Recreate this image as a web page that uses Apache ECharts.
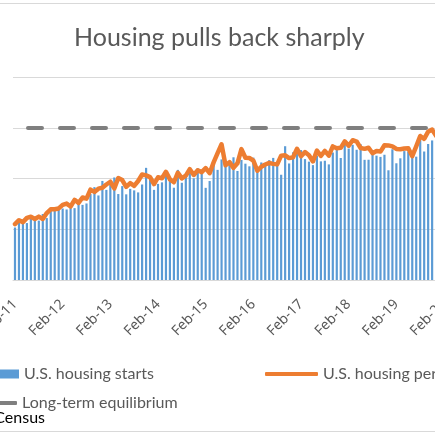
<!DOCTYPE html>
<html>
<head>
<meta charset="utf-8">
<script src="https://cdn.jsdelivr.net/npm/echarts@6/dist/echarts.min.js"></script>
<style>
  html, body { margin: 0; padding: 0; background: #fff; }
  #chart { width: 435px; height: 435px; }
</style>
</head>
<body>
<div id="chart"></div>
<script>
// monthly, Feb-11 .. Mar-20 (thousands, SAAR)
var monthNames = ['Jan', 'Feb', 'Mar', 'Apr', 'May', 'Jun', 'Jul', 'Aug', 'Sep', 'Oct', 'Nov', 'Dec'];

var housingStarts = [
  517, 600, 554, 561, 608, 623, 585, 650, 610, 711, 694,
  723, 704, 695, 753, 708, 757, 740, 754, 847, 915, 833, 976,
  888, 962, 1010, 847, 925, 844, 898, 883, 863, 941, 1105, 1003,
  888, 947, 962, 1052, 984, 909, 1085, 958, 1016, 1074, 1002, 1101,
  1077, 908, 975, 1175, 1085, 1188, 1143, 1140, 1209, 1074, 1183, 1146,
  1120, 1206, 1113, 1158, 1144, 1181, 1203, 1160, 1037, 1318, 1148, 1258,
  1241, 1280, 1191, 1166, 1132, 1223, 1169, 1175, 1139, 1256, 1288, 1202,
  1334, 1295, 1332, 1283, 1338, 1184, 1185, 1280, 1225, 1213, 1234, 1081,
  1288, 1150, 1199, 1270, 1265, 1246, 1215, 1386, 1266, 1340, 1375, 1608,
  1617, 1567, 1216
];

var housingPermits = [
  551, 589, 570, 612, 623, 601, 625, 601, 659, 697, 697,
  705, 740, 753, 724, 790, 760, 813, 801, 890, 868, 900, 909,
  941, 968, 902, 1005, 985, 918, 954, 927, 975, 1039, 1031, 1014,
  945, 1012, 1003, 1066, 991, 963, 1057, 1001, 1028, 1092, 1035, 1081,
  1063, 1103, 1052, 1159, 1250, 1337, 1130, 1161, 1105, 1150, 1289, 1204,
  1202, 1177, 1076, 1116, 1138, 1153, 1144, 1139, 1225, 1229, 1201, 1210,
  1293, 1219, 1260, 1229, 1168, 1275, 1223, 1272, 1225, 1316, 1298, 1302,
  1366, 1323, 1377, 1364, 1301, 1292, 1303, 1249, 1270, 1265, 1328, 1326,
  1317, 1291, 1288, 1296, 1299, 1220, 1317, 1419, 1391, 1461, 1482, 1420,
  1536, 1452, 1356
];

var equilibriumLevel = 1500;

var categories = [];
for (var i = 0; i < housingStarts.length; i++) {
  var k = i + 1; // first month is Feb-11
  categories.push(monthNames[k % 12] + '-' + (11 + Math.floor(k / 12)));
}

var font = 'Lato';
var grey = '#595959';
var legendText = { fontFamily: font, fontSize: 16, color: grey };

var chart = echarts.init(document.getElementById('chart'));
chart.setOption({
  animation: false,
  title: {
    text: 'Housing pulls back sharply',
    left: 69,
    top: 20,
    textStyle: { fontFamily: font, fontSize: 25, fontWeight: 'normal', color: grey }
  },
  legend: [
    {
      data: [{ name: 'U.S. housing starts', icon: 'rect' }],
      left: -39, top: 361,
      itemWidth: 53, itemHeight: 9,
      textStyle: legendText
    },
    {
      data: [{ name: 'U.S. housing permits', icon: 'roundRect' }],
      left: 260, top: 361,
      itemWidth: 53, itemHeight: 4,
      textStyle: legendText
    },
    {
      data: [{ name: 'Long-term equilibrium', icon: 'roundRect' }],
      left: -41, top: 390,
      itemWidth: 53, itemHeight: 4,
      textStyle: legendText
    }
  ],
  grid: { left: 13, top: 77, width: 437, height: 203, outerBoundsMode: 'none', containLabel: false },
  xAxis: {
    type: 'category',
    data: categories,
    boundaryGap: true,
    axisLine: { lineStyle: { color: '#d9d9d9' } },
    axisTick: { interval: 11, length: 5, lineStyle: { color: '#d9d9d9' } },
    axisLabel: {
      interval: 11, rotate: 45, margin: 22, hideOverlap: false,
      fontFamily: 'Noto Sans', fontSize: 14, color: grey
    }
  },
  yAxis: {
    type: 'value',
    min: 0, max: 2000, interval: 500,
    axisLabel: { show: false },
    axisLine: { show: false },
    axisTick: { show: false },
    splitLine: { lineStyle: { color: '#d9d9d9' } }
  },
  series: [
    {
      name: 'U.S. housing starts',
      type: 'bar',
      data: housingStarts,
      barCategoryGap: '45%',
      itemStyle: { color: '#5b9bd5' }
    },
    {
      name: 'U.S. housing permits',
      type: 'line',
      data: housingPermits,
      symbol: 'none',
      z: 4,
      itemStyle: { color: '#ed7d31' },
      lineStyle: { color: '#ed7d31', width: 4.5, join: 'round', cap: 'round' }
    },
    {
      name: 'Long-term equilibrium',
      type: 'line',
      data: [],
      symbol: 'none',
      z: 3,
      itemStyle: { color: '#7f7f7f' },
      lineStyle: { color: '#7f7f7f', width: 4 },
      markLine: {
        silent: true,
        symbol: 'none',
        label: { show: false },
        lineStyle: { color: '#7f7f7f', width: 4, type: [14, 18], dashOffset: 17, cap: 'round' },
        data: [{ yAxis: equilibriumLevel }]
      }
    }
  ],
  graphic: [
    { type: 'line', shape: { x1: 0, y1: 3.5, x2: 435, y2: 3.5 }, style: { stroke: '#d9d9d9', lineWidth: 1 } },
    { type: 'line', shape: { x1: 0, y1: 431.5, x2: 435, y2: 431.5 }, style: { stroke: '#d9d9d9', lineWidth: 1 } },
    {
      type: 'text',
      x: 45, y: 418,
      style: { text: 'Source: U.S. Census', align: 'right', verticalAlign: 'middle', fontFamily: font, fontSize: 16, fill: '#000' }
    }
  ]
});
</script>
</body>
</html>
